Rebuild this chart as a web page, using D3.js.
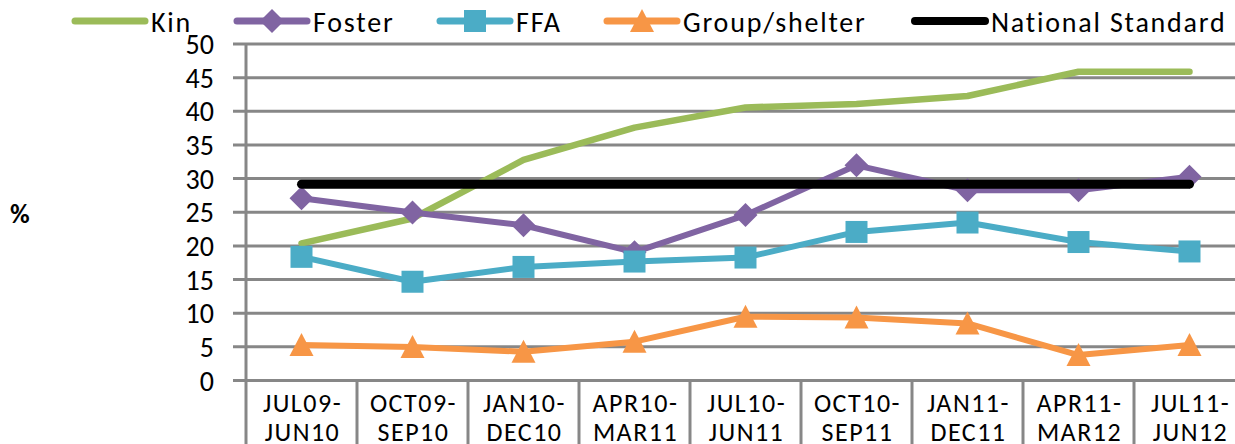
<!DOCTYPE html>
<html>
<head>
<meta charset="utf-8">
<script src="https://cdn.jsdelivr.net/npm/d3@7"></script>
<style>
  body { margin: 0; background: #fff; }
  svg { display: block; }
  text { font-family: Carlito, Lato, "Open Sans", sans-serif; fill: #000; }
</style>
</head>
<body>
<svg id="chart" width="1235" height="444"></svg>
<script>
// Reporting periods (two-line category labels)
const periods = [
  ["JUL09-", "JUN10"], ["OCT09-", "SEP10"], ["JAN10-", "DEC10"],
  ["APR10-", "MAR11"], ["JUL10-", "JUN11"], ["OCT10-", "SEP11"],
  ["JAN11-", "DEC11"], ["APR11-", "MAR12"], ["JUL11-", "JUN12"]
];

// Percentages by placement type
const kin          = [20.3, 24.0, 32.7, 37.5, 40.5, 41.0, 42.2, 45.8, 45.8];
const foster       = [27.0, 24.9, 23.0, 19.0, 24.5, 31.9, 28.2, 28.2, 30.2];
const ffa          = [18.3, 14.6, 16.8, 17.6, 18.2, 22.0, 23.4, 20.5, 19.1];
const groupShelter = [5.2, 4.9, 4.2, 5.7, 9.4, 9.3, 8.4, 3.7, 5.2];
const national     = [29.1, 29.1, 29.1, 29.1, 29.1, 29.1, 29.1, 29.1, 29.1];

const yTicks = [0, 5, 10, 15, 20, 25, 30, 35, 40, 45, 50];
const seriesNames = ["Kin", "Foster", "FFA", "Group/shelter", "National Standard"];

const svg = d3.select("#chart");
const plot = { left: 246, right: 1245, top: 43.5, bottom: 380 };
const gridColor = "#878787";

const x = d3.scaleBand()
  .domain(periods.map((p, i) => i))
  .range([plot.left, plot.right])
  .padding(0);
const y = d3.scaleLinear().domain([0, 50]).range([plot.bottom, plot.top]);
const cx = i => x(i) + x.bandwidth() / 2;

// Horizontal gridlines with outward ticks and value labels
const yAxis = d3.axisLeft(y)
  .tickValues(yTicks)
  .tickSizeInner(-(plot.right - plot.left))
  .tickSizeOuter(0)
  .tickPadding(0);
const gy = svg.append("g")
  .attr("transform", `translate(${plot.left},0)`)
  .call(yAxis);
gy.select(".domain").remove();
gy.selectAll(".tick line")
  .attr("x1", -13)
  .attr("stroke", gridColor)
  .attr("stroke-width", 3);
gy.selectAll(".tick text")
  .attr("x", -32)
  .attr("dy", "0.36em")
  .style("font-size", "28px")
  .attr("fill", "#000");

// Vertical axis line
svg.append("line")
  .attr("x1", plot.left).attr("x2", plot.left)
  .attr("y1", plot.top).attr("y2", 444)
  .attr("stroke", gridColor).attr("stroke-width", 3);

// Category separators that run down between the labels
const boundaries = periods.map((p, i) => x(i)).concat([plot.right]);
svg.append("g").selectAll("line")
  .data(boundaries.slice(1))
  .join("line")
  .attr("x1", d => d).attr("x2", d => d)
  .attr("y1", plot.bottom).attr("y2", 444)
  .attr("stroke", gridColor).attr("stroke-width", 3);

// Category labels
const catLabels = svg.append("g").selectAll("text")
  .data(periods)
  .join("text")
  .attr("text-anchor", "middle")
  .style("font-size", "26px")
  .style("letter-spacing", "1.5px");
catLabels.append("tspan")
  .attr("x", (d, i) => cx(i) + 1).attr("y", 412)
  .text(d => d[0]);
catLabels.append("tspan")
  .attr("x", (d, i) => cx(i) + 1).attr("y", 441)
  .text(d => d[1]);

// Axis title
svg.append("text")
  .attr("x", 10).attr("y", 223)
  .style("font-size", "27px")
  .style("font-weight", "bold")
  .text("%");

// Marker shapes
const markerPath = {
  diamond: "M0,-12L12,0L0,12L-12,0Z",
  square: "M-11,-11H11V11H-11Z",
  triangle: "M0,-12L12,11H-12Z"
};

const series = [
  { name: seriesNames[0], values: kin,          color: "#9BBB59", width: 6.5, marker: null },
  { name: seriesNames[1], values: foster,       color: "#8064A2", width: 6, marker: "diamond" },
  { name: seriesNames[2], values: ffa,          color: "#4BACC6", width: 6, marker: "square" },
  { name: seriesNames[3], values: groupShelter, color: "#F79646", width: 6, marker: "triangle" },
  { name: seriesNames[4], values: national,     color: "#000000", width: 9, marker: null }
];

const line = d3.line().x((d, i) => cx(i)).y(d => y(d));

series.forEach(s => {
  const g = svg.append("g");
  g.append("path")
    .attr("d", line(s.values))
    .attr("fill", "none")
    .attr("stroke", s.color)
    .attr("stroke-width", s.width)
    .attr("stroke-linejoin", "round")
    .attr("stroke-linecap", s.marker ? "butt" : "round");
  if (s.marker) {
    g.selectAll("path.m")
      .data(s.values)
      .join("path")
      .attr("class", "m")
      .attr("d", markerPath[s.marker])
      .attr("transform", (d, i) => `translate(${cx(i)},${y(d)})`)
      .attr("fill", s.color);
  }
});

// Legend
const legendX = [75, 237, 440, 607, 915];
const legendY = 21;
const legend = svg.append("g").selectAll("g")
  .data(series)
  .join("g")
  .attr("transform", (d, i) => `translate(${legendX[i]},${legendY})`);
legend.append("line")
  .attr("x1", 0).attr("x2", 70)
  .attr("stroke", d => d.color)
  .attr("stroke-width", d => d.width === 9 ? 8 : 7)
  .attr("stroke-linecap", "round");
legend.filter(d => d.marker)
  .append("path")
  .attr("d", d => markerPath[d.marker])
  .attr("transform", "translate(35,0)")
  .attr("fill", d => d.color);
legend.append("text")
  .attr("x", 76).attr("y", 11)
  .style("font-size", "28px")
  .style("letter-spacing", "1.8px")
  .text(d => d.name);
</script>
</body>
</html>
